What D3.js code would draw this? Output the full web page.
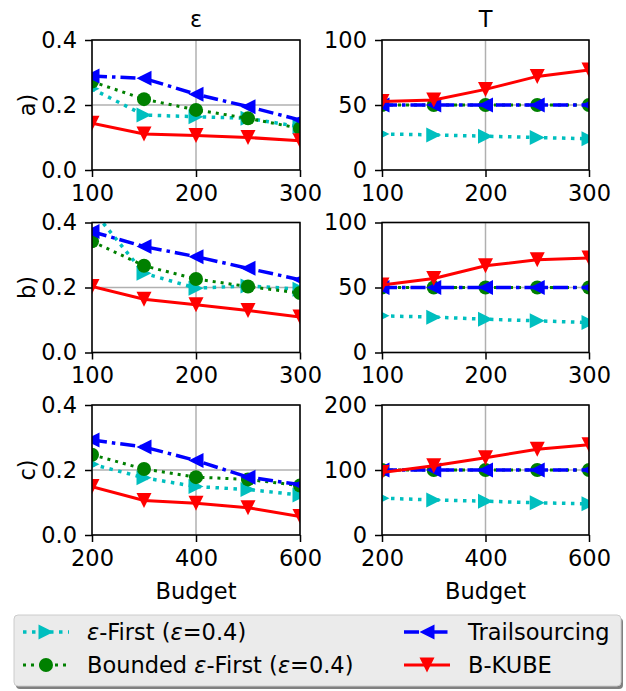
<!DOCTYPE html>
<html>
<head>
<meta charset="utf-8">
<script src="https://cdn.jsdelivr.net/npm/d3@7"></script>
<style>
  body { margin: 0; background: #fff; }
  text { font-family: "DejaVu Sans", sans-serif; fill: #000; }
</style>
</head>
<body>
<svg id="chart" width="626" height="691"></svg>
<script>
// budgets on the x axis (rows a and b share, row c is doubled)
var budgetsAB = [100, 150, 200, 250, 300];
var budgetsC = [200, 300, 400, 500, 600];
var rowLabels = ["a)", "b)", "c)"];
var colTitles = ["ε", "T"];

// epsilon column, one array per row
var epsFirstEps = [[0.25, 0.169, 0.164, 0.159, 0.133], [0.44, 0.244, 0.198, 0.205, 0.195], [0.218, 0.176, 0.149, 0.14, 0.123]];
var boundedEps = [[0.272, 0.218, 0.185, 0.159, 0.128], [0.342, 0.267, 0.226, 0.203, 0.183], [0.247, 0.203, 0.178, 0.171, 0.152]];
var trailEps = [[0.289, 0.282, 0.233, 0.195, 0.154], [0.372, 0.326, 0.295, 0.259, 0.224], [0.292, 0.271, 0.229, 0.178, 0.155]];
var bkubeEps = [[0.144, 0.111, 0.106, 0.1, 0.09], [0.203, 0.164, 0.147, 0.129, 0.109], [0.149, 0.106, 0.098, 0.084, 0.057]];

// T column
var epsFirstT = [[27.7, 27, 26, 25, 24], [28.2, 27.2, 25.6, 24.4, 23], [56.6, 54, 52, 49.5, 48]];
var boundedT = [[50, 50, 50, 50, 50], [50, 50, 50, 50, 50], [100, 100, 100, 100, 100]];
var trailT = [[50, 50, 50, 50, 50], [50, 50, 50, 50, 50], [100, 100, 100, 100, 100]];
var bkubeT = [[52.6, 53.8, 62, 72, 77], [52, 57, 66.7, 71.3, 72.6], [96, 106.6, 119, 132, 139]];

var xTicksAB = [100, 200, 300];
var xTicksC = [200, 400, 600];
var epsTicks = [0, 0.2, 0.4];
var tTicksAB = [0, 50, 100];
var tTicksC = [0, 100, 200];

var fontSize = 22.5;

var series = [
    {name: "epsFirst", color: "#00bfbf", dash: "3.5,5.5", width: 3.5, marker: "right", eps: epsFirstEps, t: epsFirstT},
    {name: "bounded", color: "#008000", dash: "3,5", width: 3, marker: "circle", eps: boundedEps, t: boundedT},
    {name: "trail", color: "#0000ff", dash: "15,5,3.5,5", width: 3.5, marker: "left", eps: trailEps, t: trailT},
    {name: "bkube", color: "#ff0000", dash: null, width: 3, marker: "down", eps: bkubeEps, t: bkubeT}
];

var cols = [{x0: 92, x1: 300}, {x0: 382, x1: 589}];
var rowTops = [40, 222.5, 405];
var axH = 130;
var tickLen = 7;

var svg = d3.select("#chart");

function markerPath(type) {
    var s = 7.5;
    if (type == "circle") return d3.symbol().type(d3.symbolCircle).size(Math.PI * 7 * 7)();
    if (type == "right") return "M" + s + ",0L" + (-s) + "," + (-s) + "L" + (-s) + "," + s + "Z";
    if (type == "left") return "M" + (-s) + ",0L" + s + "," + (-s) + "L" + s + "," + s + "Z";
    return "M0," + s + "L" + (-s) + "," + (-s) + "L" + s + "," + (-s) + "Z";
}

for (let r = 0; r < 3; r++) {
    for (let c = 0; c < 2; c++) {
        var x0 = cols[c].x0, x1 = cols[c].x1;
        var y0 = rowTops[r], y1 = rowTops[r] + axH;
        var budgets = r == 2 ? budgetsC : budgetsAB;
        var xTicks = r == 2 ? xTicksC : xTicksAB;
        var yTicks = c == 0 ? epsTicks : (r == 2 ? tTicksC : tTicksAB);

        var xScale = d3.scaleLinear().domain(d3.extent(xTicks)).range([x0, x1]);
        var yScale = d3.scaleLinear().domain(d3.extent(yTicks)).range([y1, y0]);

        var g = svg.append("g");
        var clipId = "clip" + r + c;
        svg.append("clipPath").attr("id", clipId)
            .append("rect").attr("x", x0).attr("y", y0).attr("width", x1 - x0).attr("height", y1 - y0);

        // grid
        g.append("g").selectAll("line").data(xTicks).enter().append("line")
            .attr("x1", d => xScale(d)).attr("x2", d => xScale(d))
            .attr("y1", y0).attr("y2", y1)
            .attr("stroke", "#b0b0b0").attr("stroke-width", 1.5);
        g.append("g").selectAll("line").data(yTicks).enter().append("line")
            .attr("y1", d => yScale(d)).attr("y2", d => yScale(d))
            .attr("x1", x0).attr("x2", x1)
            .attr("stroke", "#b0b0b0").attr("stroke-width", 1.5);

        var plot = g.append("g").attr("clip-path", "url(#" + clipId + ")");
        series.forEach(function (s) {
            var vals = c == 0 ? s.eps[r] : s.t[r];
            var pts = budgets.map(function (b, i) { return [b, vals[i]]; });
            var line = d3.line().x(d => xScale(d[0])).y(d => yScale(d[1]));
            plot.append("path").attr("d", line(pts))
                .attr("fill", "none")
                .attr("stroke", s.color)
                .attr("stroke-width", s.width)
                .attr("stroke-dasharray", s.dash)
                .attr("stroke-linecap", "butt");
            plot.selectAll(null).data(pts).enter().append("path")
                .attr("d", markerPath(s.marker))
                .attr("transform", d => "translate(" + xScale(d[0]) + "," + yScale(d[1]) + ")")
                .attr("fill", s.color);
        });

        // axes
        var xAxis = d3.axisBottom(xScale).tickValues(xTicks).tickSize(tickLen).tickPadding(8).tickFormat(d3.format("d"));
        var yAxis = d3.axisLeft(yScale).tickValues(yTicks).tickSize(tickLen).tickPadding(8)
            .tickFormat(c == 0 ? d3.format(".1f") : d3.format("d"));
        var gx = g.append("g").attr("transform", "translate(0," + y1 + ")").call(xAxis);
        var gy = g.append("g").attr("transform", "translate(" + x0 + ",0)").call(yAxis);
        [gx, gy].forEach(function (a) {
            a.select(".domain").remove();
            a.selectAll("line").attr("stroke", "#000").attr("stroke-width", 1.5);
            a.selectAll("text").attr("font-size", fontSize).attr("font-family", "DejaVu Sans").attr("fill", "#000");
        });

        g.append("rect").attr("x", x0).attr("y", y0).attr("width", x1 - x0).attr("height", y1 - y0)
            .attr("fill", "none").attr("stroke", "#000").attr("stroke-width", 1.5);

        if (r == 0) {
            g.append("text").attr("x", (x0 + x1) / 2).attr("y", y0 - 13)
                .attr("text-anchor", "middle").attr("font-size", fontSize)
                .text(colTitles[c]);
        }
        if (r == 2) {
            g.append("text").attr("x", (x0 + x1) / 2).attr("y", y1 + 64)
                .attr("text-anchor", "middle").attr("font-size", fontSize)
                .text("Budget");
        }
        if (c == 0) {
            g.append("text")
                .attr("transform", "translate(35," + (y0 + y1) / 2 + ") rotate(-90)")
                .attr("text-anchor", "middle").attr("font-size", fontSize)
                .text(rowLabels[r]);
        }
    }
}

// legend
var legend = svg.append("g");
legend.append("rect").attr("x", 16).attr("y", 618).attr("width", 607).attr("height", 71)
    .attr("rx", 4).attr("fill", "#808080");
legend.append("rect").attr("x", 14).attr("y", 615).attr("width", 607).attr("height", 71)
    .attr("rx", 4).attr("fill", "#ebebeb").attr("stroke", "#cccccc").attr("stroke-width", 1);

var legendItems = [
    {s: series[0], x: 23, y: 632, label: [["ε", true], ["-First (", false], ["ε", true], ["=0.4)", false]]},
    {s: series[1], x: 23, y: 665, label: [["Bounded ", false], ["ε", true], ["-First (", false], ["ε", true], ["=0.4)", false]]},
    {s: series[2], x: 404, y: 632, label: [["Trailsourcing", false]]},
    {s: series[3], x: 404, y: 665, label: [["B-KUBE", false]]}
];
legendItems.forEach(function (it) {
    legend.append("line").attr("x1", it.x).attr("x2", it.x + 46)
        .attr("y1", it.y).attr("y2", it.y)
        .attr("stroke", it.s.color).attr("stroke-width", it.s.width)
        .attr("stroke-dasharray", it.s.dash);
    legend.append("path").attr("d", markerPath(it.s.marker))
        .attr("transform", "translate(" + (it.x + 23) + "," + it.y + ")")
        .attr("fill", it.s.color);
    var t = legend.append("text").attr("x", it.x + 64).attr("y", it.y + 8)
        .attr("font-size", fontSize);
    it.label.forEach(function (p) {
        t.append("tspan").attr("font-style", p[1] ? "italic" : "normal").text(p[0]);
    });
});
</script>
</body>
</html>
